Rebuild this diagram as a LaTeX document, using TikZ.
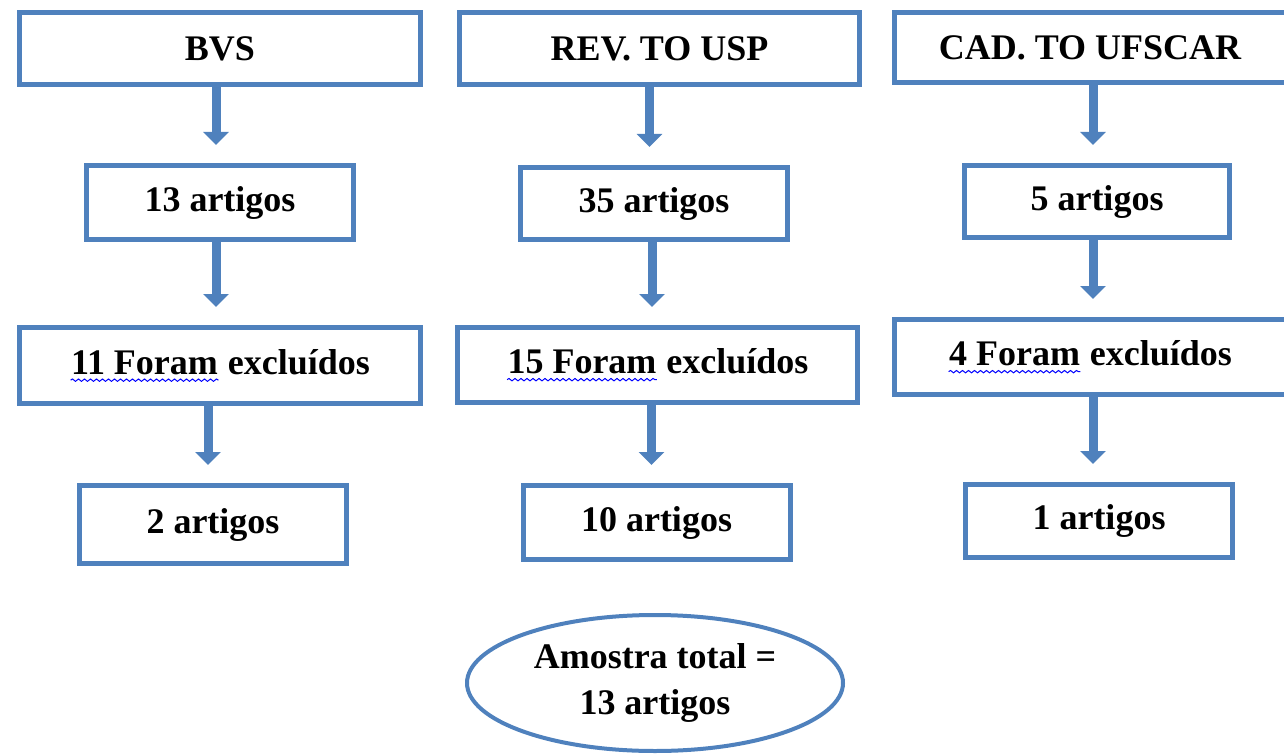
\documentclass[tikz,border=0pt]{standalone}
\usepackage{fontspec}
\setmainfont{Liberation Serif}
\usepackage{tikz}
\usetikzlibrary{arrows.meta,shapes.geometric,decorations.pathmorphing}
\definecolor{boxblue}{RGB}{79,129,189}
\newcommand{\spellwave}[1]{\tikz[baseline=(sw.base)]{\node [draw=none, inner sep=0pt, minimum width=0pt, minimum height=0pt] (sw) {#1};
  \draw [blue, line width=0.5pt, decorate, decoration={snake, amplitude=0.6pt, segment length=3pt}]
    ([yshift=-3pt]sw.base west) -- ([yshift=-3pt]sw.base east);}}

\begin{document}
\begin{tikzpicture}[x=0.5pt, y=-0.5pt,
    every node/.style={font=\bfseries\fontsize{18}{23}\selectfont, inner sep=0pt},
    bigbox/.style={draw=boxblue, line width=2.5pt, minimum height=36pt},
    smallbox/.style={draw=boxblue, line width=2.5pt, minimum width=133.5pt, minimum height=37pt},
    flowarrow/.style={draw=boxblue, line width=4.5pt, shorten <=-2pt, shorten >=9pt,
      -{Triangle[width=12.5pt, length=6.5pt]}}]
      \useasboundingbox (0, 0) rectangle (1284, 754);

      \node [bigbox, minimum width=200.5pt] (bvs) at (220, 48.5) {BVS};
      \node [smallbox] (bvsart) at (220, 202.5) {13 artigos};
      \node [bigbox, minimum width=200.5pt, minimum height=38pt] (bvsexc) at (220, 365.5) {\spellwave{11 Foram} excluídos};
      \node [smallbox, minimum height=39pt] (bvsfim) at (213, 524.5) {2 artigos};
      \draw [flowarrow] ([xshift=-2pt]bvs.south) -- ([xshift=-2pt]bvs.south |- bvsart.north);
      \draw [flowarrow] ([xshift=-2pt]bvsart.south) -- ([xshift=-2pt]bvsart.south |- bvsexc.north);
      \draw [flowarrow] ([xshift=-6pt]bvsexc.south) -- ([xshift=-6pt]bvsexc.south |- bvsfim.north);

      \node [bigbox, minimum width=200pt] (usp) at (659.5, 48.5) {REV. TO USP};
      \node [smallbox, minimum height=36pt] (uspart) at (654, 203.5) {35 artigos};
      \node [bigbox, minimum width=200pt, minimum height=37.5pt] (uspexc) at (657.5, 365) {\spellwave{15 Foram} excluídos};
      \node [smallbox] (uspfim) at (656.5, 522.5) {10 artigos};
      \draw [flowarrow] ([xshift=-5pt]usp.south) -- ([xshift=-5pt]usp.south |- uspart.north);
      \draw [flowarrow] ([xshift=-1pt]uspart.south) -- ([xshift=-1pt]uspart.south |- uspexc.north);
      \draw [flowarrow] ([xshift=-3pt]uspexc.south) -- ([xshift=-3pt]uspexc.south |- uspfim.north);

      \node [bigbox, minimum width=196pt, minimum height=35pt] (ufscar) at (1090, 47.5) {CAD. TO UFSCAR};
      \node [smallbox, minimum width=132.5pt, minimum height=36pt] (ufsart) at (1097, 201.5) {5 artigos};
      \node [bigbox, minimum width=196pt, minimum height=37.5pt] (ufsexc) at (1090, 357) {\spellwave{4 Foram} excluídos};
      \node [smallbox, minimum height=36.5pt] (ufsfim) at (1099, 521) {1 artigos};
      \draw [flowarrow] ([xshift=1.5pt]ufscar.south) -- ([xshift=1.5pt]ufscar.south |- ufsart.north);
      \draw [flowarrow] ([xshift=-2pt]ufsart.south) -- ([xshift=-2pt]ufsart.south |- ufsexc.north);
      \draw [flowarrow] ([xshift=1.5pt]ufsexc.south) -- ([xshift=1.5pt]ufsexc.south |- ufsfim.north);

      \node [ellipse, draw=boxblue, line width=2pt, minimum width=188pt, minimum height=68pt, align=center] (total) at (655, 683) {Amostra total =\\13 artigos};
    \end{tikzpicture}
\end{document}
